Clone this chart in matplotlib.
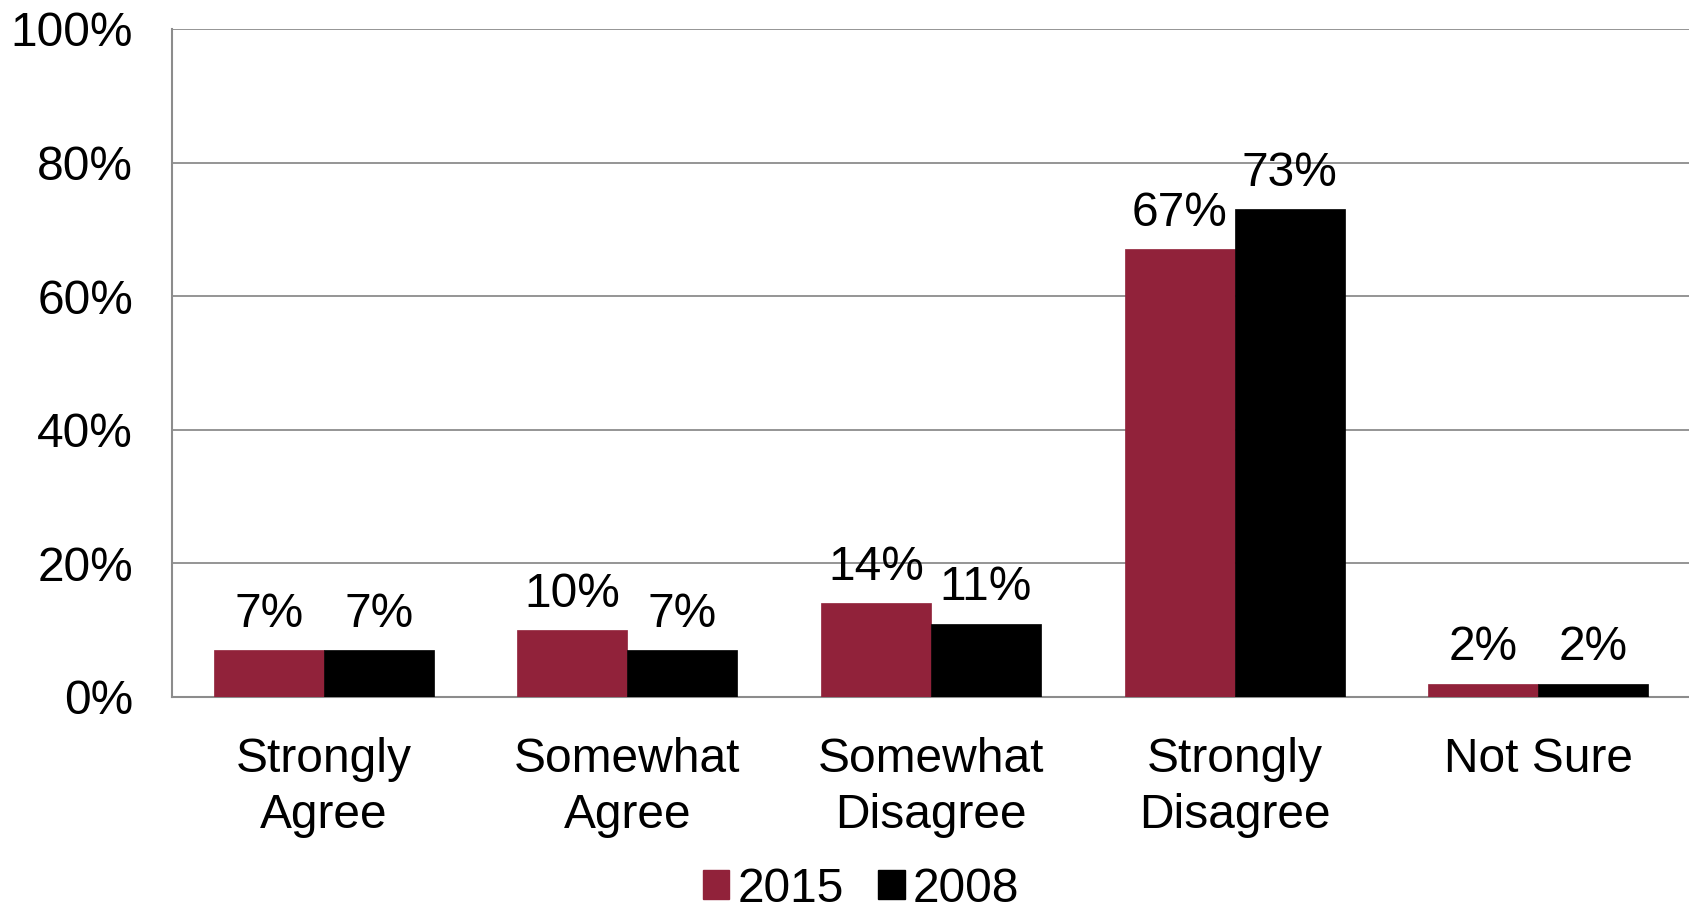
import matplotlib
matplotlib.use("Agg")
import matplotlib.pyplot as plt
import numpy as np
from matplotlib.patches import Patch

categories = ["Strongly\nAgree", "Somewhat\nAgree", "Somewhat\nDisagree", "Strongly\nDisagree", "Not Sure"]
series_names = ["2015", "2008"]
values_2015 = [7, 10, 14, 67, 2]
values_2008 = [7, 7, 11, 73, 2]
yticks = [0, 20, 40, 60, 80, 100]

colors = ["#91223A", "#000000"]

plt.rcParams["font.family"] = ["Liberation Sans", "DejaVu Sans"]

W, H = 1690, 909
FS = 34.5
fig = plt.figure(figsize=(W / 100, H / 100), dpi=100)
ax = fig.add_axes([172 / W, 1 - 697 / H, (W - 172) / W, 668 / H])

x = np.arange(len(categories))
bw = 0.362
for i, (vals, name) in enumerate(zip([values_2015, values_2008], series_names)):
    offs = (i - 0.5) * bw
    ax.bar(x + offs, vals, bw, color=colors[i], edgecolor=colors[i],
           linewidth=0.5, zorder=3, label=name)
    for xi, v in zip(x + offs, vals):
        ax.text(xi, v + 2.0, f"{v}%", ha="center", va="bottom", fontsize=FS, color="black")

ax.set_xlim(-0.5, len(categories) - 0.5)
ax.set_ylim(0, 100)
ax.set_yticks(yticks)
ax.set_yticklabels([f"{t}%" for t in yticks])
ax.set_xticks(x)
ax.set_xticklabels(categories, linespacing=1.3)
ax.tick_params(axis="both", length=0, labelsize=FS, colors="black")
ax.tick_params(axis="y", pad=28)
ax.tick_params(axis="x", pad=29)

ax.yaxis.grid(True, color="#8c8c8c", linewidth=1.3, zorder=0)
for s in ["top", "right"]:
    ax.spines[s].set_visible(False)
for s in ["left", "bottom"]:
    ax.spines[s].set_color("#8c8c8c")
    ax.spines[s].set_linewidth(1.5)

handles = [Patch(facecolor=c, edgecolor=c) for c in colors]
fig.legend(handles, series_names, loc="center", bbox_to_anchor=(861 / W, 1 - 889 / H),
           ncol=2, frameon=False, fontsize=FS, handlelength=0.55, handleheight=0.55,
           handletextpad=0.17, columnspacing=0.72)

fig.savefig("out.png", dpi=100)
